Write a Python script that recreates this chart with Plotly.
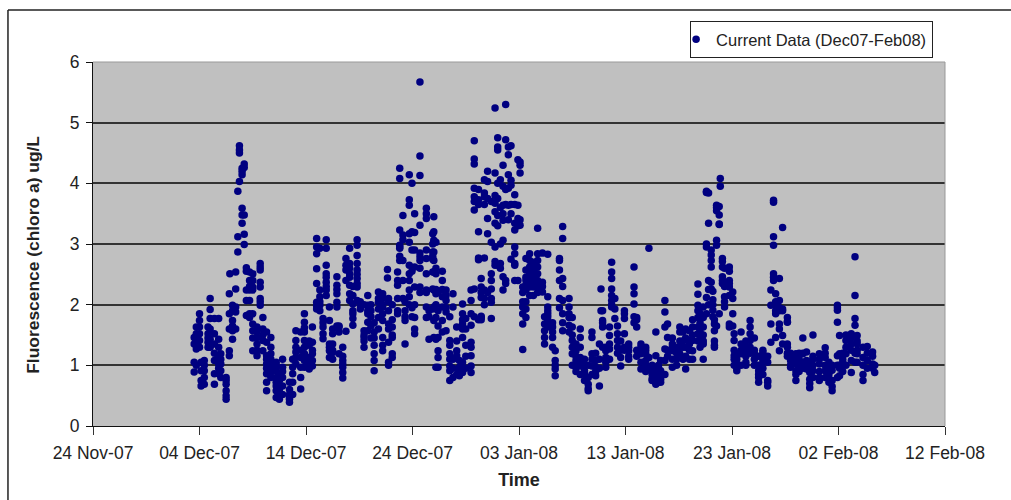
import pandas as pd
import plotly.graph_objects as go

# each entry: (days after 24 Nov 2007, [chlorophyll readings at that time, ug/L])
early_dec = [
 (9.5,[1.46,1.35,1.05,0.89]),(9.7,[1.63,1.52,1.41,1.27,1.0]),(10.0,[1.85,1.74,1.63,1.52,1.41,1.3]),
 (10.15,[1.05,0.91,0.75,0.66]),(10.45,[1.08,0.91,0.8,0.69,1.0]),(10.8,[1.63,1.52,1.38,1.3,1.45]),
 (11.0,[2.1,1.92,1.77,1.6,1.43,1.3]),(11.4,[1.77,1.52,1.35,1.08,0.86,0.69,1.2]),(11.8,[1.77,1.43,1.3,1.16,1.02,0.86,0.95]),
 (12.0,[1.19,1.02,0.91,0.8,1.1]),(12.5,[0.8,0.69,0.58,0.5,0.44,0.75]),
 (12.8,[2.18,1.85,1.6,1.24,1.16]),(12.85,[2.51]),(13.1,[1.99,1.74,1.57,1.43,1.9,1.65]),
 (13.4,[2.54,2.26,1.96,1.88,1.6]),(13.6,[2.87,3.12,3.87]),(13.75,[4.03,4.5,4.62,4.55]),
 (14.0,[4.14,4.25,3.59,3.48,3.34,4.2]),(14.2,[4.26,3.48,3.16,2.99,4.32]),(14.4,[2.61,2.24,2.07,1.82,2.55]),
 (14.7,[2.54,2.4,2.24,2.07,1.79,2.3,1.85]),(15.0,[2.51,2.29,2.24,1.85,1.68,1.57,1.24,2.4,1.45]),
 (15.4,[1.63,1.46,1.35,1.16,1.55,1.25]),(15.7,[2.68,2.57,2.37,2.29,2.1,1.99,2.62,2.05]),
 (15.95,[1.79,1.6,1.41,1.24,1.5]),(16.3,[1.55,1.38,1.16,1.02,0.86,0.72,0.58,1.1,0.95]),
 (16.7,[1.46,1.3,1.19,1.02,0.88,0.8,0.95,1.1]),(17.2,[1.05,0.91,0.8,0.66,0.58,0.47,0.72,1.0]),
 (17.5,[0.75,0.61,0.44,0.55,0.85]),(17.8,[1.1,0.97,0.8,0.66,0.52,0.9]),
 (18.45,[0.72,0.52,0.44,0.39,0.47,0.6]),(18.75,[1.1,0.86,0.72,0.52,0.97]),
 (19.05,[1.57,1.41,1.3,1.13,1.02,1.22]),(19.5,[1.13,0.97,0.8,0.61,1.25,1.55]),
 (19.85,[1.71,1.85,1.55,1.41,1.19,1.08,0.97,1.62,1.3]),(20.3,[1.38,1.33,1.13,0.99,0.94,1.4,1.05]),
 (20.6,[1.63,1.19,1.08,0.99,1.38,1.25]),
]
mid_dec = [
 (21.0,[3.09,2.84,2.95,2.59,2.35,2.04,1.93,1.98]),(21.3,[2.93,2.24,2.13,1.99,1.9,2.05]),
 (21.6,[1.77,1.63,1.52,1.44,1.7]),(21.9,[3.07,2.93,2.65,2.51,2.37,2.24,2.15,2.45,2.3]),
 (22.2,[1.96,1.74,1.35,1.24,1.13,1.3]),(22.5,[1.52,1.35,1.21,1.1,1.6,1.25]),
 (22.9,[2.46,2.32,2.18,2.04,1.96,2.25,1.65]),(23.1,[1.63,1.19,1.65,1.55]),
 (23.45,[1.3,1.08,0.97,0.88,0.79,1.02,1.15]),(23.75,[1.56,2.76,2.57,2.4,2.65]),
 (24.1,[2.93,2.68,2.51,2.32,2.18,2.07,2.6,2.45]),(24.4,[2.01,1.9,1.77,1.66,1.85,2.15,2.3]),
 (24.8,[3.07,2.98,2.81,2.68,2.57,2.43,2.29,2.07,2.5,2.35]),(25.1,[1.99,1.93,2.05]),
 (25.45,[1.57,1.46,1.3,1.5,1.4,2.0]),(25.8,[2.15,1.99,1.85,1.71,1.57,1.9]),
 (26.1,[1.9,1.65,1.45,1.8,2.0]),(26.4,[1.55,1.33,1.19,1.08,0.91,1.45,1.7]),
 (26.8,[2.21,2.04,1.93,1.79,2.1,1.6]),(27.2,[2.18,1.96,1.74,1.46,1.33,1.24,1.85,2.1,2.0]),
 (27.65,[2.58,2.44]),(27.75,[2.1,1.9,1.68,1.38,1.05,1.0,1.6,2.05]),
 (28.1,[1.63,1.46,1.19,1.13,1.5,1.75,2.0]),(28.6,[2.32,2.1,1.9,2.54,2.4,1.85]),
 (28.8,[3.23,2.93,2.98,2.73,4.25,4.08,2.95,2.8]),(29.1,[3.47,3.07,2.73,3.15,2.4,2.1]),
 (29.3,[1.74,1.35,1.9,2.05,1.8]),(29.7,[4.14,3.64,3.73,3.17,3.03,2.51,2.4,2.24,2.13,2.65,2.0]),
 (29.95,[4.0,3.2,2.9,2.55,1.95,1.8]),(30.2,[3.19,2.9,2.62,2.29,1.79,1.52,3.5,2.0,1.6]),
 (30.7,[5.67,4.45,3.31,2.79,2.73,2.29,4.13,2.85,2.6,2.2]),(31.3,[3.59,3.42,2.76,2.51,2.24,1.96,1.79,3.5,2.9,2.2]),
 (31.55,[1.43,1.9,1.8]),(31.9,[3.17,2.87,2.54,2.26,1.93,3.0,2.75,2.8]),
 (32.2,[3.03,2.51,2.18,1.79,1.43,0.97,2.6,2.25,2.0]),
]
late_dec = [
 (32.0,[3.45,3.2,3.06,2.87,2.73,2.54,2.24,1.96,1.74,1.46]),(32.4,[1.46,1.24,1.13,0.97,2.2,1.65,1.9]),
 (32.8,[2.55,2.4,2.13,1.96,1.74,2.25,1.55]),(33.15,[2.24,2.07,1.88,1.57,1.95,2.15]),
 (33.5,[1.41,1.33,1.19,0.99,0.91,0.75,1.8,1.1]),(33.8,[2.18,1.96,0.95,0.8,1.1]),
 (34.15,[1.63,1.24,1.16,1.4,0.85]),(34.4,[0.97,0.83,1.08,0.88,0.92]),
 (34.7,[2.01,1.85,1.68,1.46,1.05,0.88,1.75,1.6]),(35.0,[1.77,1.6,1.33,1.15,0.95]),
 (35.5,[2.24,2.07,1.85,1.66,1.38,1.16,0.99,0.88,1.3]),(35.8,[2.26,4.7,4.4,4.32,3.92,3.7,3.56,3.78,1.8]),
 (36.2,[3.2,2.74,3.73,3.65,2.77,1.75,3.9]),(36.45,[2.43,2.29,2.12,1.79,2.2,1.81,1.75]),
 (36.75,[4.06,3.84,3.78,2.77,2.24,2.1,3.65,2.0]),(37.05,[4.2,4.03,3.42,3.17,3.75,2.2]),
 (37.4,[3.03,2.51,2.26,2.04,1.77,3.7,2.4,2.1]),(37.75,[5.24,4.17,3.67,3.53,3.34,2.95,2.71,3.8,2.65]),
 (38.0,[4.6,4.75,4.55,3.75,3.47,4.0,2.65,3.3]),(38.25,[2.68,4.06,3.6,2.6,3.0]),
 (38.5,[4.3,3.64,3.39,3.06,2.46,2.24,3.95,3.5]),(38.75,[5.3,4.72,3.9,3.65,2.4,2.35]),
 (39.0,[4.47,4.14,3.92,3.64,4.6,3.4]),(39.25,[4.62,3.97,3.5,4.05,3.65,2.75]),
 (39.6,[3.81,3.34,3.23,2.95,2.84,2.68,3.65,2.4,2.65]),(39.9,[4.39,3.64,3.42,3.35,3.3,2.4]),
 (40.1,[4.3,4.17,3.31,3.4,4.35]),(40.35,[2.29,1.96,1.68,1.26,2.2,2.05,1.85]),
 (40.65,[2.76,2.57,2.4,2.24,1.93,1.79,2.32,2.05,2.45]),(41.0,[2.84,2.73,2.51,2.29,2.4,2.15,2.62]),
 (41.35,[2.62,2.46,2.29,2.15,2.7,2.35,2.55]),(41.75,[3.26,2.84,2.73,2.51,2.29,2.4,2.2,2.62]),
 (42.2,[2.37,2.21,2.3,2.85]),(42.4,[1.68,1.57,1.46,1.35,1.8]),
 (42.7,[2.83,2.13,1.96,1.85,1.74,1.63,1.9,1.8]),(43.15,[1.63,1.46,1.3,1.7,1.55]),
 (43.4,[1.08,0.94,0.83,1.24,1.0]),(43.8,[2.73,2.57,2.76,2.4,2.1,1.95]),
 (44.1,[3.29,3.09,2.43,2.07,1.85,1.57,2.3,1.7]),(44.7,[2.1,1.96,1.79,1.66,1.85,1.55]),
 (45.0,[1.79,1.63,1.41,1.3,1.19,1.5,1.0]),(45.35,[1.24,1.08,0.97,1.35,0.9,1.15]),
 (45.75,[1.6,1.46,1.3,1.13,0.99,1.05,0.85]),(46.15,[0.91,0.75,0.85,1.0,1.1]),
 (46.5,[0.69,0.58,0.62,0.8,1.0]),
]
january = [
 (46.85,[1.55,1.46,1.19,0.99,0.85,1.1]),(47.2,[1.08,0.97,0.83,0.9,1.2]),(47.55,[1.35,0.66,1.1,0.95]),
 (47.7,[2.26,1.9]),(47.85,[1.9,1.74,1.63,1.7,1.3]),(48.15,[1.24,1.13,0.97,1.05,1.3]),
 (48.5,[1.63,1.49,1.27,1.1,1.35]),(48.7,[2.7,2.54,2.43,2.26,2.07,1.96,2.15,2.0]),
 (49.0,[1.93,1.77,2.1]),(49.25,[1.52,1.41,1.3,1.2,1.65]),(49.55,[1.13,0.99,1.25,1.4]),
 (49.9,[1.9,1.77,1.52,1.85,1.3,1.25]),(50.3,[1.35,1.24,1.1,1.3,1.15]),
 (50.8,[2.62,2.29,2.18,2.01,1.8,1.7]),(51.05,[1.79,1.63,1.75,1.25,1.15]),
 (51.45,[1.35,1.19,0.94,1.05,1.3]),(51.9,[1.3,1.19,1.08,0.9,1.0,1.25]),(52.2,[2.93,1.13,0.95]),
 (52.5,[0.85,0.75,1.0,0.92,0.78]),(52.85,[1.55,1.16,0.86,0.75,0.69,0.8,0.72,0.9]),
 (53.1,[0.8,0.72,0.85,0.95,1.0]),(53.3,[1.08,0.91,0.77,0.85,0.72]),(53.7,[2.07,1.88,1.63,1.08,1.27,0.85]),
 (53.95,[1.68,1.46,1.15,1.25]),(54.4,[1.35,1.24,0.97,1.45,1.1,1.3]),(54.8,[1.3,1.1,1.0,1.2]),
 (55.1,[1.63,1.3,1.19,1.55,1.4]),(55.4,[1.4,1.1,1.3,1.55]),(55.65,[1.6,1.3,0.94,1.45,1.15]),
 (56.0,[1.57,1.41,1.25,1.1,1.35]),(56.3,[1.63,1.41,1.24,1.1,1.75,1.5]),
 (56.8,[2.34,2.17,1.99,1.79,1.63,1.52,1.4,1.9]),(57.0,[1.95,1.85,1.7,1.55,1.45,1.3]),
 (57.3,[1.1,1.35,1.63,1.96,1.79,1.5,1.4]),(57.6,[3.87,2.95,2.12,3.85,3.0,1.85]),
 (57.8,[3.84,3.34,2.0,2.25,2.4]),(58.05,[2.82,2.73,2.62,2.37,2.26,2.9]),
 (58.2,[2.22,2.08,1.91,2.0,1.8]),(58.35,[1.68,1.57,1.33,1.3,1.4,1.75]),
 (58.55,[3.64,3.06,2.98,3.6,3.55,1.65]),(58.8,[3.62,3.48,3.32,3.33,1.85]),(58.9,[4.08,3.95]),
 (59.1,[2.71,2.62,2.46,2.35,2.76,2.4]),(59.3,[2.13,1.96,2.05,2.3,2.6]),
 (59.75,[2.62,2.4,2.29,2.15,1.68,1.63,2.35,2.55]),(60.07,[2.21,1.85,2.1,1.65]),
 (60.2,[1.52,1.41,1.16,1.0,1.25,1.1]),(60.45,[1.02,0.91,1.1,1.2,0.95]),
 (60.85,[1.55,1.35,1.19,1.0,1.25]),(61.3,[1.24,1.05,1.15,1.4,1.0,1.3]),
 (61.7,[1.74,1.63,1.52,1.41,1.3,1.2]),(62.1,[1.19,1.1,1.0,1.45,1.25]),
 (62.5,[0.91,0.8,0.72,1.0,0.85,1.15]),(62.9,[1.21,1.05,0.95,1.1,1.25,0.85]),
]
february = [
 (63.35,[1.05,0.75,0.66,0.72,1.15]),(63.65,[1.68,1.38,2.24,1.99]),(63.9,[3.69,3.12,2.98,2.51,2.4,3.72,2.45]),
 (64.1,[2.18,1.9,1.85,1.46,2.05,2.0]),(64.45,[2.43,2.07,1.68,1.6,1.24,1.95,1.9]),
 (64.75,[3.27,1.93,1.49,1.35,1.9]),(65.2,[1.79,1.71,1.35,1.3,1.15,1.2,1.72]),
 (65.5,[1.08,0.97,1.2,1.0,1.15]),(66.0,[1.19,1.02,0.91,0.75,1.1,0.85]),
 (66.3,[1.2,1.05,0.95,1.1,0.9]),(66.65,[1.45,1.19,1.05,1.2,0.95]),(67.0,[1.22,1.08,0.94,1.0]),
 (67.3,[0.77,0.63,0.88,1.05,0.7]),(67.6,[1.5,1.1,0.91,1.15,0.8,1.0]),(68.2,[1.19,1.02,0.8,1.1,0.9,0.75]),
 (68.75,[1.29,1.13,0.91,1.2,0.8,1.0]),(69.1,[0.95,0.85,0.72,1.05,0.78]),(69.4,[0.75,0.58,0.65,0.92,1.0]),
 (69.9,[1.99,1.91,1.71,1.16,0.8,1.95,1.0]),(70.1,[1.49,1.19,0.83,1.0,0.95]),(70.4,[1.2,1.05,0.9,1.1,1.0]),
 (70.7,[1.41,1.19,1.5,1.3,1.0]),(71.2,[1.52,1.35,1.08,0.88,1.45,1.25]),
 (71.55,[2.79,2.15,1.77,1.66,1.2,1.05]),(71.75,[1.49,1.35,1.19,1.05,1.4,1.25]),
 (72.3,[1.13,0.75,1.3,1.0,0.85]),(72.7,[1.31,1.08,0.95,1.2]),(73.2,[1.22,1.02,1.15,0.95]),(73.4,[0.88,1.0]),
]

START_DATE = "2007-11-24"
SERIES_NAME = "Current Data (Dec07-Feb08)"
Y_TITLE = "Fluorescence (chloro a) ug/L"
Y_TICKS = [0, 1, 2, 3, 4, 5, 6]

groups = early_dec + mid_dec + late_dec + january + february
days = [d for d, vals in groups for _ in vals]
chl = [v for _, vals in groups for v in vals]
times = pd.Timestamp(START_DATE) + pd.to_timedelta(days, unit="D")

fig = go.Figure(go.Scatter(x=times, y=chl, mode="markers", name=SERIES_NAME, showlegend=True,
                           marker=dict(color="#000080", size=7.5, line=dict(width=0))))
font = "Liberation Sans, Arial, sans-serif"
fig.update_layout(
    width=1011, height=500, autosize=False,
    margin=dict(l=93, r=66, t=62, b=73.5, pad=0),
    paper_bgcolor="white", plot_bgcolor="#C0C0C0",
    font=dict(family=font, size=17.5, color="#222222"),
    showlegend=True,
    legend=dict(x=0.7008, y=1.1125, xanchor="left", yanchor="top", bgcolor="white",
                bordercolor="#222222", borderwidth=1, indentation=-15,
                font=dict(size=16.5, family=font)),
    xaxis=dict(type="date", range=[START_DATE, "2008-02-12"], tick0=START_DATE, dtick=864000000.0,
               tickformat="%d %b-%y", ticks="outside", ticklen=8, tickcolor="#333", showgrid=False,
               showline=True, linecolor="#111", linewidth=1, zeroline=False, ticklabelstandoff=3,
               title=dict(text="<b>Time</b>", font=dict(size=18), standoff=11)),
    yaxis=dict(range=[0, 6], tickvals=Y_TICKS, ticks="outside", ticklen=6, tickcolor="#111",
               showgrid=True, gridcolor="#333333", gridwidth=1.5, showline=True, linecolor="#111",
               zeroline=False, ticklabelstandoff=3),
    annotations=[dict(text="<b>" + Y_TITLE + "</b>", textangle=-90, showarrow=False,
                      xref="paper", yref="paper", x=-0.0704, y=0.4705,
                      xanchor="center", yanchor="middle", font=dict(size=17.4))],
    shapes=[
        dict(type="line", xref="x domain", yref="y domain", x0=0, x1=1, y0=1, y1=1,
             line=dict(color="#999999", width=1)),
        dict(type="line", xref="x domain", yref="y domain", x0=1, x1=1, y0=0, y1=1,
             line=dict(color="#999999", width=1)),
        dict(type="line", xref="paper", yref="paper", x0=-0.0998, x1=1.08, y0=1.1427, y1=1.1427,
             line=dict(color="#222222", width=1.5)),
        dict(type="line", xref="paper", yref="paper", x0=-0.0998, x1=-0.0998, y0=-0.21, y1=1.1427,
             line=dict(color="#222222", width=1.5)),
    ],
)
fig.write_html("out.html", config={"displayModeBar": False},
               post_script="document.body.style.margin='0';")
